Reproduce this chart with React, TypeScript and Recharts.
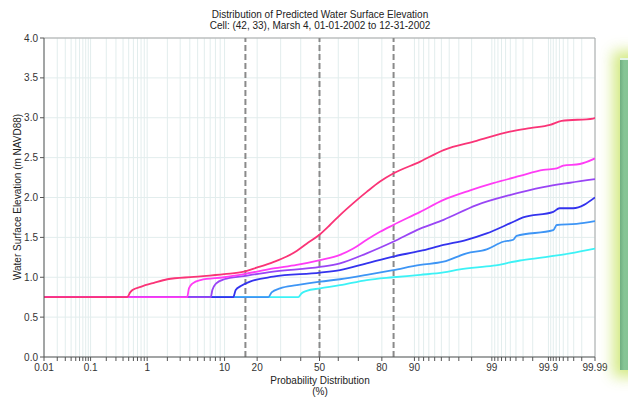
import React from "react";
import {
  LineChart,
  Line,
  XAxis,
  YAxis,
  CartesianGrid,
  ReferenceLine,
} from "recharts";

// probability (%) / elevation (m), one pair of arrays per curve
const pinkP = [0.01, 0.47, 0.53, 0.58, 0.79, 1.27, 2.0, 4.5, 9.9, 15.4, 19.8, 26.6, 32.9, 37.9, 43.1, 50.3, 55.6, 60.9, 67.6, 73.8, 79.3, 84.0, 91.3, 95.3, 98.3, 99.49, 99.776, 99.907, 99.946, 99.989, 99.99];
const pinkV = [0.75, 0.75, 0.81, 0.84, 0.88, 0.93, 0.975, 1.005, 1.04, 1.07, 1.12, 1.19, 1.26, 1.33, 1.42, 1.54, 1.655, 1.78, 1.93, 2.07, 2.2, 2.3, 2.45, 2.595, 2.71, 2.825, 2.87, 2.91, 2.96, 2.99, 3.0];

const magentaP = [0.01, 3.7, 3.9, 4.3, 5.4, 9.9, 15.4, 26.6, 37.9, 50.3, 60.9, 67.6, 73.8, 79.3, 84.0, 91.3, 95.3, 97.9, 99.05, 99.66, 99.874, 99.932, 99.95, 99.978, 99.99];
const magentaV = [0.75, 0.75, 0.86, 0.92, 0.965, 1.0, 1.04, 1.11, 1.155, 1.216, 1.28, 1.36, 1.47, 1.57, 1.655, 1.82, 1.97, 2.09, 2.18, 2.27, 2.345, 2.365, 2.4, 2.42, 2.49];

const purpleP = [0.01, 7.1, 7.4, 8.1, 9.9, 15.4, 26.6, 50.3, 60.9, 73.8, 84.0, 91.3, 95.3, 98.3, 99.49, 99.874, 99.964, 99.99];
const purpleV = [0.75, 0.75, 0.84, 0.92, 0.975, 1.015, 1.07, 1.13, 1.175, 1.3, 1.445, 1.61, 1.72, 1.905, 2.03, 2.13, 2.185, 2.23];

const blueP = [0.01, 12.2, 12.9, 14.4, 17.4, 26.6, 50.3, 60.9, 73.8, 84.0, 91.3, 95.3, 97.65, 98.8, 99.49, 99.7, 99.92, 99.94, 99.969, 99.99];
const blueV = [0.75, 0.75, 0.84, 0.89, 0.945, 1.007, 1.057, 1.09, 1.175, 1.26, 1.33, 1.405, 1.47, 1.55, 1.675, 1.75, 1.82, 1.865, 1.865, 2.0];

const skyP = [0.01, 24.5, 25.9, 29.7, 37.9, 50.3, 60.9, 73.8, 84.0, 91.3, 95.3, 97.65, 98.8, 99.34, 99.555, 99.61, 99.92, 99.932, 99.974, 99.99];
const skyV = [0.75, 0.75, 0.81, 0.86, 0.9, 0.945, 0.975, 1.03, 1.09, 1.155, 1.195, 1.3, 1.35, 1.445, 1.47, 1.52, 1.59, 1.655, 1.67, 1.705];

const cyanP = [0.01, 38.7, 40.5, 43.1, 50.3, 60.9, 73.8, 84.0, 91.3, 95.3, 97.1, 99.05, 99.66, 99.874, 99.964, 99.99];
const cyanV = [0.75, 0.75, 0.8, 0.83, 0.86, 0.9, 0.965, 1.0, 1.03, 1.06, 1.1, 1.145, 1.21, 1.25, 1.3, 1.36];

const majorTicks = [0.01, 0.1, 1, 10, 20, 50, 80, 90, 99, 99.9, 99.99];
const minorTicks = [
  0.02, 0.03, 0.04, 0.05, 0.06, 0.07, 0.08, 0.09,
  0.2, 0.3, 0.4, 0.5, 0.6, 0.7, 0.8, 0.9,
  2, 3, 4, 5, 6, 7, 8, 9,
  30, 40, 60, 70,
  91, 92, 93, 94, 95, 96, 97, 98,
  99.1, 99.2, 99.3, 99.4, 99.5, 99.6, 99.7, 99.8,
  99.91, 99.92, 99.93, 99.94, 99.95, 99.96, 99.97, 99.98,
];
const yTicks = [0, 0.5, 1, 1.5, 2, 2.5, 3, 3.5, 4];
const sigmaLines = [-1, 0, 1];

// inverse normal cdf (Acklam) -> probability paper
function probit(p: number) {
  const a = [-39.69683028665376, 220.9460984245205, -275.9285104469687, 138.357751867269, -30.66479806614716, 2.506628277459239];
  const b = [-54.47609879822406, 161.5858368580409, -155.6989798598866, 66.80131188771972, -13.28068155288572];
  const c = [-0.007784894002430293, -0.3223964580411365, -2.400758277161838, -2.549732539343734, 4.374664141464968, 2.938163982698783];
  const d = [0.007784695709041462, 0.3224671290700398, 2.445134137142996, 3.754408661907416];
  const pl = 0.02425;
  if (p < pl) {
    const q = Math.sqrt(-2 * Math.log(p));
    return (((((c[0] * q + c[1]) * q + c[2]) * q + c[3]) * q + c[4]) * q + c[5]) / ((((d[0] * q + d[1]) * q + d[2]) * q + d[3]) * q + 1);
  }
  if (p > 1 - pl) {
    const q = Math.sqrt(-2 * Math.log(1 - p));
    return -(((((c[0] * q + c[1]) * q + c[2]) * q + c[3]) * q + c[4]) * q + c[5]) / ((((d[0] * q + d[1]) * q + d[2]) * q + d[3]) * q + 1);
  }
  const q = p - 0.5;
  const r = q * q;
  return ((((((a[0] * r + a[1]) * r + a[2]) * r + a[3]) * r + a[4]) * r + a[5]) * q) / (((((b[0] * r + b[1]) * r + b[2]) * r + b[3]) * r + b[4]) * r + 1);
}
const zOf = (pct: number) => probit(pct / 100);

const ZMIN = zOf(0.01);
const ZMAX = zOf(99.99);

const allTicks = [...majorTicks, ...minorTicks].sort((a, b) => a - b);
const tickZ = allTicks.map(zOf);
const tickLabel = (z: number) => {
  const i = tickZ.findIndex((t) => Math.abs(t - z) < 1e-6);
  const p = allTicks[i];
  return majorTicks.includes(p) ? String(p) : "";
};

const toPoints = (ps: number[], vs: number[]) => ps.map((p, i) => ({ z: zOf(p), v: vs[i] }));

// drawn bottom first so the pink curve sits on top of the shared flat part
const series = [
  { name: "cyan", color: "#3cf2f6", data: toPoints(cyanP, cyanV) },
  { name: "sky", color: "#3d95f5", data: toPoints(skyP, skyV) },
  { name: "blue", color: "#3333ee", data: toPoints(blueP, blueV) },
  { name: "purple", color: "#9945f5", data: toPoints(purpleP, purpleV) },
  { name: "magenta", color: "#ff3cf5", data: toPoints(magentaP, magentaV) },
  { name: "pink", color: "#fa3477", data: toPoints(pinkP, pinkV) },
];

const font = "'Liberation Sans', Arial, sans-serif";

export default function App() {
  return (
    <div
      style={{
        position: "absolute",
        left: 0,
        top: 0,
        width: 628,
        height: 397,
        overflow: "hidden",
        background: "#fff",
        fontFamily: font,
        color: "#222",
      }}
    >
      <div style={{ position: "absolute", left: 0, width: 640, top: 9, textAlign: "center", fontSize: 10, lineHeight: "11px" }}>
        Distribution of Predicted Water Surface Elevation
        <br />
        Cell: (42, 33), Marsh 4, 01-01-2002 to 12-31-2002
      </div>

      <LineChart width={628} height={397} margin={{ top: 38, right: 33, left: 14, bottom: 20 }}>
        <CartesianGrid stroke="#e2eded" strokeWidth={1} />
        <XAxis
          type="number"
          dataKey="z"
          domain={[ZMIN, ZMAX]}
          ticks={tickZ}
          interval={0}
          height={20}
          tickFormatter={tickLabel}
          tickSize={4}
          tickMargin={3}
          tick={{ fontSize: 10, fill: "#333", fontFamily: font }}
          stroke="#555"
          allowDataOverflow
        />
        <YAxis
          type="number"
          domain={[0, 4]}
          ticks={yTicks}
          width={30}
          tickSize={4}
          tickFormatter={(v: number) => v.toFixed(1)}
          tick={{ fontSize: 10, fill: "#333", fontFamily: font }}
          stroke="#555"
        />
        <ReferenceLine y={4} stroke="#a8a8a8" />
        <ReferenceLine x={ZMAX} stroke="#a8a8a8" />
        {sigmaLines.map((s) => (
          <ReferenceLine key={s} x={s} stroke="#8a8a8a" strokeWidth={2} strokeDasharray="6 3" />
        ))}
        {series.map((s) => (
          <Line
            key={s.name}
            data={s.data}
            dataKey="v"
            type="monotone"
            stroke={s.color}
            strokeWidth={1.8}
            dot={false}
            isAnimationActive={false}
          />
        ))}
      </LineChart>

      <div style={{ position: "absolute", left: 0, width: 640, top: 375, textAlign: "center", fontSize: 10, lineHeight: "11px" }}>
        Probability Distribution
        <br />
        (%)
      </div>
      <div
        style={{
          position: "absolute",
          left: 17,
          top: 197,
          fontSize: 10,
          whiteSpace: "nowrap",
          transform: "translate(-50%, -50%) rotate(-90deg)",
        }}
      >
        Water Surface Elevation (m NAVD88)
      </div>

      <div
        style={{
          position: "absolute",
          left: 620,
          top: 58,
          width: 30,
          height: 310,
          background: "linear-gradient(90deg, #6fae80 0px, #86c595 4px, #7fbd8e 100%)",
          borderTop: "2px solid #e4f4e6",
          boxShadow: "0 0 14px 7px rgba(205, 230, 110, 0.85)",
        }}
      />
    </div>
  );
}
